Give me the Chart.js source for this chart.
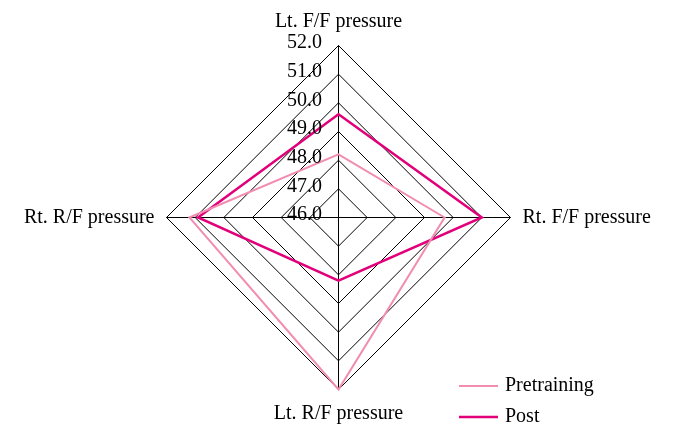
<!DOCTYPE html>
<html>
<head>
<meta charset="utf-8">
<script src="https://cdn.jsdelivr.net/npm/chart.js@4.4.1/dist/chart.umd.min.js"></script>
<style>
  html, body { margin: 0; padding: 0; background: #fff; }
  #wrap { width: 675px; height: 425px; position: relative; }
</style>
</head>
<body>
<div id="wrap"><canvas id="radarChart"></canvas></div>
<script>
// Foot pressure radar, pre vs post training
const axes = ['Lt. F/F pressure', 'Rt. F/F pressure', 'Lt. R/F pressure', 'Rt. R/F pressure'];
const pretraining = [48.2, 49.7, 52.0, 51.2];
const post = [49.6, 51.0, 48.2, 50.9];
const scaleMin = 46;
const scaleMax = 52;
const scaleStep = 1;

const FONT = "'Liberation Serif', 'Times New Roman', serif";

// shift by half a pixel so the 1px grid lines come out crisp
const crisp = {
    id: 'crisp',
    beforeDraw(c) { c.ctx.save(); c.ctx.translate(0.5, 0.5); },
    afterDatasetsDraw(c) { c.ctx.restore(); }
};

// tick labels sit to the left of the vertical axis, not on it
const tickLabels = {
    id: 'tickLabels',
    afterDatasetsDraw(c) {
        const s = c.scales.r;
        const ctx = c.ctx;
        ctx.save();
        ctx.font = '20px ' + FONT;
        ctx.fillStyle = '#000';
        ctx.textAlign = 'right';
        ctx.textBaseline = 'middle';
        s.ticks.forEach((t) => {
            const d = s.getDistanceFromCenterForValue(t.value);
            ctx.fillText(t.value.toFixed(1), s.xCenter - 16, s.yCenter - d - 2);
        });
        ctx.restore();
    }
};

// legend in the lower right corner
const cornerLegend = {
    id: 'cornerLegend',
    afterDraw(c) {
        const ctx = c.ctx;
        ctx.save();
        ctx.font = '20px ' + FONT;
        ctx.textBaseline = 'middle';
        ctx.textAlign = 'left';
        c.data.datasets.forEach((ds, i) => {
            const y = 386 + i * 31;
            ctx.strokeStyle = ds.borderColor;
            ctx.lineWidth = ds.borderWidth;
            ctx.beginPath();
            ctx.moveTo(459, y);
            ctx.lineTo(498, y);
            ctx.stroke();
            ctx.fillStyle = '#000';
            ctx.fillText(ds.label, 505, y);
        });
        ctx.restore();
    }
};

new Chart(document.getElementById('radarChart'), {
    type: 'radar',
    data: {
        labels: axes,
        datasets: [
            { label: 'Pretraining', data: pretraining, borderColor: '#f28db2', borderWidth: 2, fill: false, pointRadius: 0 },
            { label: 'Post', data: post, borderColor: '#e2007a', borderWidth: 2.5, fill: false, pointRadius: 0 }
        ]
    },
    options: {
        responsive: true,
        maintainAspectRatio: false,
        animation: false,
        layout: { padding: { top: 9, bottom: 0, left: 0, right: 0 } },
        elements: { line: { tension: 0 } },
        plugins: {
            legend: { display: false },
            tooltip: { enabled: false }
        },
        scales: {
            r: {
                min: scaleMin,
                max: scaleMax,
                ticks: { stepSize: scaleStep, display: false },
                grid: { circular: false, color: '#000', lineWidth: 1 },
                angleLines: { color: '#000', lineWidth: 1 },
                pointLabels: {
                    padding: 12,
                    color: '#000',
                    font: { family: FONT, size: 20 }
                }
            }
        }
    },
    plugins: [crisp, tickLabels, cornerLegend]
});
</script>
</body>
</html>
